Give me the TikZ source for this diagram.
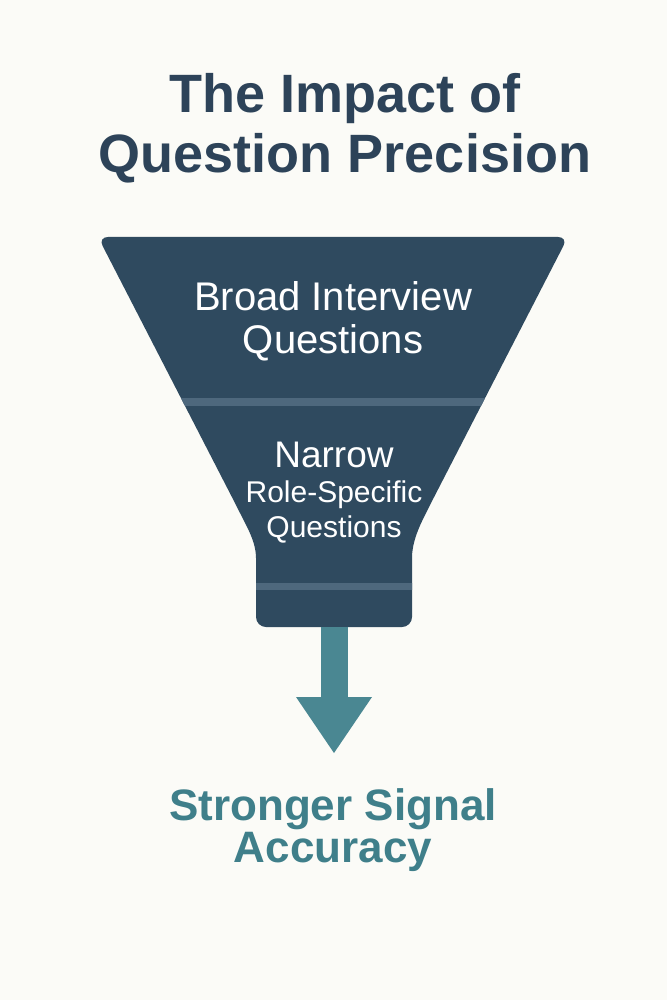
\documentclass[tikz,border=0pt]{standalone}
\usepackage{fontspec}
\setmainfont{Liberation Sans}
\usetikzlibrary{arrows.meta,positioning}
\definecolor{bgpaper}{HTML}{FBFBF7}
\definecolor{slate}{HTML}{2F4A5F}
\definecolor{titleink}{HTML}{2D4359}
\definecolor{bandline}{HTML}{4E687D}
\definecolor{tealflow}{HTML}{4A8792}
\definecolor{tealink}{HTML}{3F7F8A}

\begin{document}
\begin{tikzpicture}[
    x=1pt, y=-1pt,
    title/.style={font=\bfseries\fontsize{54}{60}\selectfont, text=titleink, align=center, inner sep=0pt, anchor=base},
    stage/.style={text=white, align=center, inner sep=0pt, anchor=base},
    result/.style={font=\bfseries\fontsize{44}{42}\selectfont, text=tealink, align=center, inner sep=0pt, anchor=base},
    flow/.style={line width=27pt, draw=tealflow, -{Triangle[length=56pt,width=76pt,line width=0pt]}}
  ]
    \fill[bgpaper] (0,0) rectangle (667,1000);
    \useasboundingbox (0,0) rectangle (667,1000);

    % funnel body and its two bands
    \begin{scope}
      \clip[rounded corners=10pt] (256,568) .. controls (256,542) and (247,527) .. (236,505) -- (98,237) -- (568,237) -- (430,505) .. controls (419,527) and (412,542) .. (412,568) -- (412,627) -- (256,627) -- cycle;
      \fill[slate] (90,230) rectangle (580,630);
      \fill[bandline] (90,398) rectangle (580,406);
      \fill[bandline] (90,583) rectangle (580,590);
    \end{scope}

    % base anchor sits on the last line
    \node[title] (title) at (345,173) {The Impact of\\Question Precision};

    \node[stage, font=\fontsize{40}{43}\selectfont] (broad) at (333,353) {Broad Interview\\Questions};
    \node[stage, font=\fontsize{30}{35}\selectfont] (narrow) at (334,537) {{\fontsize{37}{35}\selectfont Narrow}\\Role-Specific\\Questions};

    \coordinate (neck) at (334,627);
    \coordinate (tip) at (334,753);
    \node[result] (signal) at (333,862) {Stronger Signal\\Accuracy};

    \draw[flow] (neck) -- (tip);

  \end{tikzpicture}
\end{document}
